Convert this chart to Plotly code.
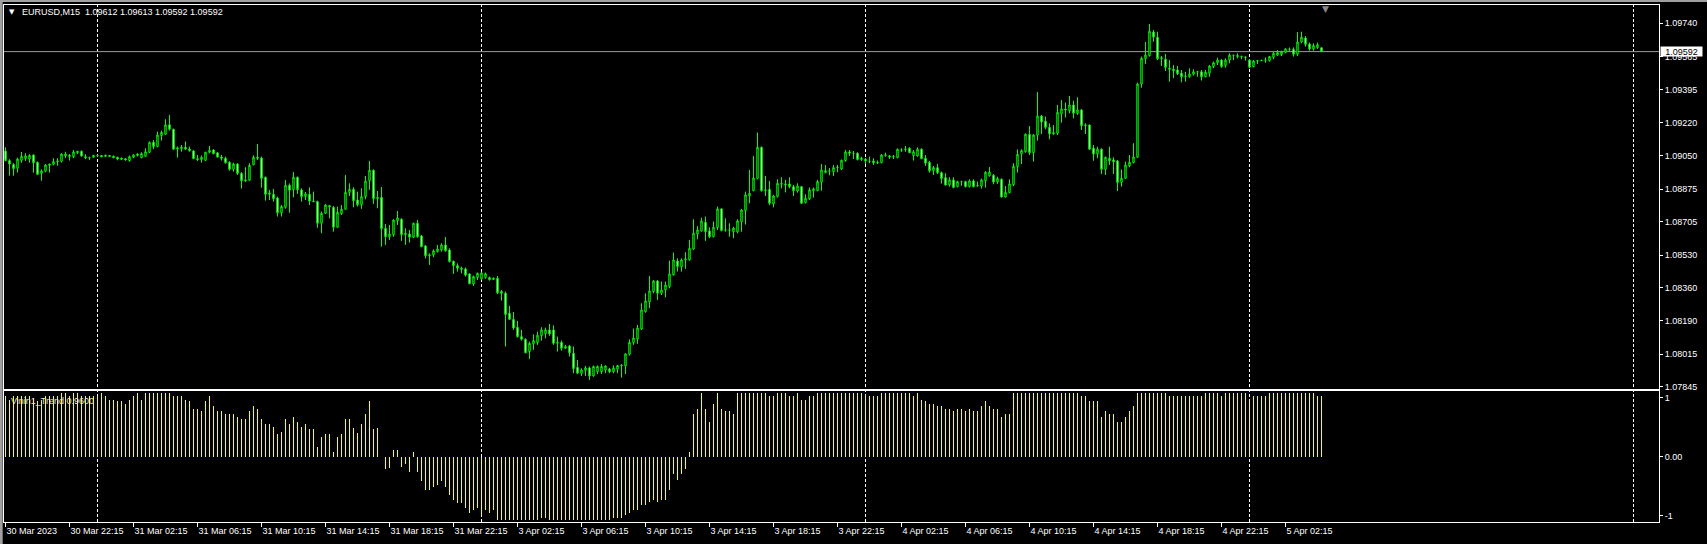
import plotly.graph_objects as go

# ---------------- data (EURUSD M15) ----------------
open_ = [
1.09074,1.09024,1.09003,1.08984,1.09025,1.09034,1.09032,1.09053,1.09015,1.08957,
1.08968,1.08999,1.09004,1.09018,1.09020,1.09048,1.09051,1.09044,1.09065,1.09072,
1.09044,1.09039,1.09041,1.09050,1.09050,1.09046,1.09050,1.09046,1.09041,1.09036,
1.09034,1.09024,1.09041,1.09050,1.09039,1.09046,1.09067,1.09119,1.09097,1.09154,
1.09161,1.09210,1.09187,1.09083,1.09086,1.09093,1.09084,1.09074,1.09034,1.09029,
1.09025,1.09067,1.09079,1.09064,1.09043,1.09036,1.09015,1.08978,1.09006,1.08957,
1.08919,1.08921,1.09003,1.09041,1.09037,1.08937,1.08848,1.08848,1.08829,1.08752,
1.08780,1.08895,1.08872,1.08937,1.08871,1.08836,1.08848,1.08813,1.08810,1.08697,
1.08749,1.08789,1.08780,1.08676,1.08747,1.08770,1.08858,1.08874,1.08818,1.08794,
1.08836,1.08919,1.08973,1.08825,1.08832,1.08671,1.08627,1.08638,1.08711,1.08718,
1.08638,1.08641,1.08624,1.08697,1.08631,1.08579,1.08528,1.08532,1.08549,1.08558,
1.08584,1.08558,1.08499,1.08476,1.08462,1.08459,1.08433,1.08381,1.08414,1.08407,
1.08414,1.08414,1.08410,1.08410,1.08341,1.08332,1.08228,1.08196,1.08155,1.08106,
1.08092,1.08028,1.08068,1.08075,1.08111,1.08122,1.08141,1.08141,1.08071,1.08076,
1.08045,1.08057,1.08019,1.07946,1.07915,1.07929,1.07943,1.07901,1.07923,1.07923,
1.07932,1.07937,1.07923,1.07936,1.07955,1.07953,1.08014,1.08075,1.08094,1.08146,
1.08236,1.08287,1.08341,1.08396,1.08332,1.08349,1.08367,1.08428,1.08500,1.08471,
1.08506,1.08506,1.08563,1.08641,1.08657,1.08702,1.08657,1.08627,1.08674,1.08772,
1.08662,1.08662,1.08653,1.08652,1.08705,1.08763,1.08839,1.08867,1.08931,1.09093,
1.08867,1.08874,1.08798,1.08836,1.08900,1.08902,1.08902,1.08888,1.08865,1.08888,
1.08805,1.08824,1.08867,1.08867,1.08911,1.08961,1.08970,1.08966,1.08987,1.08980,
1.09024,1.09069,1.09062,1.09062,1.09029,1.09031,1.09020,1.09022,1.09013,1.09013,
1.09051,1.09048,1.09043,1.09039,1.09079,1.09081,1.09088,1.09050,1.09048,1.09083,
1.09036,1.09015,1.08971,1.08987,1.08961,1.08935,1.08897,1.08923,1.08888,1.08914,
1.08914,1.08888,1.08918,1.08891,1.08891,1.08919,1.08944,1.08947,1.08912,1.08926,
1.08834,1.08857,1.08898,1.08992,1.09058,1.09070,1.09161,1.09065,1.09156,1.09256,
1.09229,1.09197,1.09163,1.09166,1.09268,1.09293,1.09284,1.09314,1.09270,1.09288,
1.09206,1.09209,1.09088,1.09058,1.09083,1.08978,1.09036,1.09027,1.09022,1.08910,
1.08931,1.08996,1.09013,1.09041,1.09423,1.09555,1.09571,1.09694,1.09667,1.09555,
1.09552,1.09505,1.09500,1.09496,1.09479,1.09465,1.09461,1.09474,1.09486,1.09487,
1.09461,1.09479,1.09514,1.09534,1.09548,1.09519,1.09548,1.09573,1.09566,1.09567,
1.09564,1.09548,1.09514,1.09543,1.09545,1.09547,1.09545,1.09562,1.09574,1.09576,
1.09588,1.09604,1.09604,1.09578,1.09642,1.09663,1.09632,1.09606,1.09613,1.09612]

high = [
1.09093,1.09031,1.09010,1.09039,1.09069,1.09062,1.09057,1.09057,1.09018,1.08978,
1.09006,1.09006,1.09036,1.09036,1.09062,1.09070,1.09058,1.09079,1.09074,1.09077,
1.09057,1.09044,1.09053,1.09055,1.09053,1.09055,1.09053,1.09050,1.09044,1.09039,
1.09037,1.09050,1.09057,1.09062,1.09067,1.09088,1.09123,1.09131,1.09175,1.09180,
1.09239,1.09262,1.09190,1.09097,1.09105,1.09123,1.09097,1.09079,1.09053,1.09050,
1.09070,1.09100,1.09083,1.09069,1.09053,1.09044,1.09020,1.09013,1.09010,1.08964,
1.08989,1.09010,1.09051,1.09110,1.09044,1.08940,1.08871,1.08876,1.08836,1.08792,
1.08923,1.08905,1.08964,1.08940,1.08879,1.08860,1.08884,1.08862,1.08815,1.08758,
1.08798,1.08792,1.08787,1.08784,1.08792,1.08949,1.08905,1.08884,1.08862,1.08879,
1.08944,1.09022,1.08978,1.08865,1.08886,1.08693,1.08688,1.08718,1.08761,1.08723,
1.08671,1.08662,1.08700,1.08714,1.08636,1.08584,1.08540,1.08561,1.08584,1.08593,
1.08626,1.08566,1.08502,1.08488,1.08471,1.08466,1.08436,1.08424,1.08440,1.08445,
1.08440,1.08419,1.08414,1.08422,1.08349,1.08341,1.08266,1.08234,1.08188,1.08141,
1.08097,1.08080,1.08118,1.08132,1.08155,1.08153,1.08172,1.08165,1.08106,1.08085,
1.08063,1.08063,1.08054,1.07984,1.07941,1.07953,1.07950,1.07955,1.07956,1.07963,
1.07956,1.07943,1.07956,1.07958,1.07960,1.08019,1.08092,1.08148,1.08167,1.08280,
1.08332,1.08422,1.08401,1.08401,1.08393,1.08393,1.08502,1.08544,1.08514,1.08514,
1.08546,1.08610,1.08718,1.08683,1.08726,1.08732,1.08676,1.08706,1.08784,1.08775,
1.08723,1.08697,1.08679,1.08718,1.08772,1.08862,1.08975,1.09048,1.09170,1.09097,
1.08944,1.08918,1.08845,1.08926,1.08937,1.08923,1.08937,1.08897,1.08905,1.08891,
1.08848,1.08884,1.08883,1.08923,1.09006,1.09001,1.08985,1.09001,1.09001,1.09029,
1.09079,1.09079,1.09074,1.09067,1.09044,1.09037,1.09044,1.09036,1.09024,1.09058,
1.09065,1.09053,1.09053,1.09086,1.09088,1.09100,1.09093,1.09079,1.09093,1.09088,
1.09053,1.09022,1.08996,1.09006,1.08966,1.08958,1.08937,1.08937,1.08919,1.08919,
1.08919,1.08926,1.08926,1.08914,1.08930,1.08968,1.08991,1.08954,1.08940,1.08931,
1.08891,1.08926,1.09010,1.09082,1.09082,1.09166,1.09204,1.09162,1.09381,1.09262,
1.09253,1.09218,1.09209,1.09314,1.09340,1.09326,1.09361,1.09336,1.09354,1.09293,
1.09218,1.09213,1.09105,1.09096,1.09088,1.09044,1.09096,1.09041,1.09027,1.08978,
1.09018,1.09053,1.09114,1.09430,1.09566,1.09642,1.09736,1.09705,1.09696,1.09569,
1.09580,1.09548,1.09522,1.09517,1.09496,1.09487,1.09505,1.09500,1.09491,1.09496,
1.09496,1.09522,1.09540,1.09560,1.09552,1.09557,1.09583,1.09574,1.09583,1.09571,
1.09566,1.09552,1.09548,1.09548,1.09548,1.09562,1.09569,1.09592,1.09600,1.09597,
1.09609,1.09613,1.09614,1.09694,1.09696,1.09673,1.09639,1.09635,1.09639,1.09613]

low = [
1.09020,1.08945,1.08945,1.08961,1.09013,1.09022,1.09013,1.08961,1.08949,1.08919,
1.08963,1.08961,1.08999,1.08997,1.09013,1.09036,1.09024,1.09036,1.09058,1.09044,
1.09031,1.09027,1.09039,1.09044,1.09041,1.09043,1.09043,1.09036,1.09025,1.09027,
1.09024,1.09018,1.09036,1.09046,1.09036,1.09043,1.09062,1.09083,1.09093,1.09128,
1.09157,1.09180,1.09079,1.09039,1.09070,1.09079,1.09070,1.09031,1.09022,1.09013,
1.09022,1.09062,1.09057,1.09039,1.09024,1.09008,1.08971,1.08966,1.08949,1.08878,
1.08912,1.08919,1.08999,1.09027,1.08883,1.08815,1.08818,1.08810,1.08732,1.08732,
1.08773,1.08752,1.08832,1.08850,1.08810,1.08818,1.08792,1.08808,1.08674,1.08645,
1.08745,1.08723,1.08653,1.08672,1.08740,1.08766,1.08839,1.08780,1.08784,1.08772,
1.08822,1.08871,1.08798,1.08775,1.08575,1.08584,1.08610,1.08627,1.08688,1.08605,
1.08584,1.08596,1.08619,1.08622,1.08572,1.08514,1.08480,1.08520,1.08544,1.08549,
1.08549,1.08493,1.08433,1.08445,1.08436,1.08419,1.08379,1.08370,1.08401,1.08401,
1.08408,1.08398,1.08401,1.08328,1.08294,1.08054,1.08193,1.08141,1.08101,1.08085,
1.08019,1.07990,1.08037,1.08063,1.08085,1.08097,1.08110,1.08063,1.08028,1.08033,
1.08042,1.08002,1.07915,1.07910,1.07901,1.07901,1.07880,1.07897,1.07911,1.07911,
1.07915,1.07915,1.07915,1.07915,1.07892,1.07911,1.08007,1.08063,1.08068,1.08141,
1.08231,1.08254,1.08332,1.08297,1.08323,1.08311,1.08358,1.08424,1.08445,1.08445,
1.08459,1.08502,1.08558,1.08613,1.08653,1.08605,1.08619,1.08624,1.08662,1.08655,
1.08653,1.08627,1.08619,1.08645,1.08653,1.08690,1.08801,1.08864,1.08926,1.08862,
1.08839,1.08791,1.08780,1.08832,1.08879,1.08858,1.08879,1.08839,1.08857,1.08798,
1.08801,1.08818,1.08831,1.08864,1.08867,1.08958,1.08947,1.08944,1.08963,1.08975,
1.09018,1.09048,1.09032,1.09025,1.09022,1.09006,1.09010,1.09001,1.09006,1.09010,
1.09044,1.09032,1.09032,1.09036,1.09069,1.09069,1.09062,1.09024,1.09044,1.09031,
1.08996,1.08961,1.08949,1.08954,1.08904,1.08893,1.08888,1.08879,1.08884,1.08893,
1.08884,1.08884,1.08884,1.08888,1.08878,1.08883,1.08940,1.08900,1.08902,1.08831,
1.08831,1.08853,1.08891,1.08961,1.09006,1.09065,1.09053,1.09018,1.09128,1.09162,
1.09187,1.09135,1.09157,1.09157,1.09222,1.09248,1.09270,1.09244,1.09262,1.09183,
1.09162,1.09079,1.09023,1.09036,1.08954,1.08949,1.09001,1.08954,1.08865,1.08888,
1.08928,1.08989,1.09010,1.09037,1.09404,1.09527,1.09566,1.09644,1.09548,1.09517,
1.09491,1.09435,1.09454,1.09470,1.09432,1.09435,1.09456,1.09467,1.09461,1.09441,
1.09458,1.09461,1.09505,1.09522,1.09508,1.09508,1.09531,1.09548,1.09557,1.09552,
1.09545,1.09505,1.09510,1.09527,1.09543,1.09534,1.09540,1.09552,1.09569,1.09569,
1.09583,1.09592,1.09566,1.09569,1.09635,1.09618,1.09597,1.09597,1.09606,1.09592]

close = [
1.09024,1.09006,1.08982,1.09032,1.09046,1.09048,1.09051,1.09013,1.08952,1.08970,
1.09001,1.09006,1.09018,1.09022,1.09058,1.09058,1.09046,1.09069,1.09072,1.09048,
1.09039,1.09038,1.09051,1.09050,1.09044,1.09051,1.09046,1.09039,1.09032,1.09031,
1.09027,1.09044,1.09053,1.09058,1.09060,1.09070,1.09119,1.09097,1.09157,1.09170,
1.09210,1.09187,1.09083,1.09090,1.09093,1.09084,1.09076,1.09034,1.09029,1.09041,
1.09067,1.09077,1.09060,1.09043,1.09036,1.09013,1.08978,1.09006,1.08957,1.08919,
1.08923,1.08999,1.09041,1.09036,1.08931,1.08848,1.08855,1.08825,1.08752,1.08784,
1.08895,1.08869,1.08937,1.08872,1.08836,1.08850,1.08813,1.08810,1.08697,1.08749,
1.08792,1.08784,1.08676,1.08754,1.08770,1.08858,1.08874,1.08815,1.08794,1.08836,
1.08917,1.08973,1.08825,1.08832,1.08669,1.08627,1.08641,1.08714,1.08725,1.08638,
1.08645,1.08624,1.08697,1.08627,1.08575,1.08528,1.08533,1.08553,1.08563,1.08584,
1.08554,1.08497,1.08476,1.08462,1.08457,1.08427,1.08382,1.08419,1.08436,1.08438,
1.08434,1.08403,1.08405,1.08335,1.08332,1.08221,1.08196,1.08151,1.08106,1.08092,
1.08022,1.08071,1.08085,1.08113,1.08141,1.08141,1.08120,1.08071,1.08076,1.08045,
1.08054,1.08022,1.07939,1.07915,1.07932,1.07943,1.07901,1.07950,1.07950,1.07950,
1.07953,1.07923,1.07943,1.07955,1.07958,1.08016,1.08076,1.08099,1.08151,1.08245,
1.08292,1.08344,1.08396,1.08332,1.08349,1.08375,1.08433,1.08506,1.08471,1.08506,
1.08511,1.08566,1.08645,1.08662,1.08709,1.08653,1.08627,1.08676,1.08772,1.08659,
1.08662,1.08661,1.08671,1.08709,1.08766,1.08845,1.08853,1.08933,1.09093,1.08867,
1.08871,1.08801,1.08839,1.08905,1.08904,1.08898,1.08888,1.08867,1.08891,1.08801,
1.08827,1.08871,1.08876,1.08914,1.08975,1.08971,1.08969,1.08987,1.08989,1.09025,
1.09069,1.09062,1.09062,1.09029,1.09036,1.09022,1.09020,1.09013,1.09015,1.09053,
1.09053,1.09043,1.09044,1.09083,1.09079,1.09084,1.09065,1.09070,1.09083,1.09034,
1.09010,1.08971,1.08987,1.08961,1.08930,1.08897,1.08923,1.08884,1.08914,1.08914,
1.08888,1.08918,1.08888,1.08893,1.08923,1.08963,1.08964,1.08912,1.08930,1.08834,
1.08858,1.08902,1.08994,1.09056,1.09076,1.09161,1.09065,1.09157,1.09256,1.09225,
1.09197,1.09163,1.09169,1.09275,1.09293,1.09288,1.09314,1.09270,1.09288,1.09206,
1.09209,1.09083,1.09058,1.09083,1.08978,1.09041,1.09023,1.09018,1.08909,1.08931,
1.09001,1.09015,1.09043,1.09423,1.09557,1.09574,1.09698,1.09667,1.09555,1.09560,
1.09510,1.09500,1.09493,1.09477,1.09461,1.09463,1.09475,1.09487,1.09487,1.09461,
1.09484,1.09517,1.09534,1.09548,1.09514,1.09548,1.09574,1.09573,1.09571,1.09566,
1.09562,1.09510,1.09543,1.09545,1.09547,1.09548,1.09566,1.09583,1.09587,1.09590,
1.09606,1.09604,1.09578,1.09642,1.09667,1.09630,1.09606,1.09623,1.09628,1.09592]

# Vinin1_Trend indicator, one value per bar
trend = [
0.955,0.89,0.955,0.955,0.955,0.955,0.955,0.92,0.87,0.90,
0.955,0.955,0.955,0.955,1.0,1.0,0.955,1.0,1.0,0.955,
0.955,0.955,0.955,0.955,1.0,0.955,0.90,0.90,0.877,0.877,
0.824,0.90,0.955,1.0,0.90,1.0,1.0,1.0,1.0,1.0,
1.0,1.0,0.955,0.955,0.955,0.90,0.877,0.75,0.75,0.724,
0.877,0.955,0.80,0.72,0.72,0.67,0.67,0.67,0.62,0.593,
0.593,0.72,0.80,0.75,0.593,0.514,0.514,0.462,0.357,0.383,
0.593,0.514,0.62,0.54,0.462,0.514,0.436,0.436,0.157,0.304,
0.357,0.357,0.068,0.304,0.36,0.59,0.59,0.46,0.38,0.51,
0.67,0.87,0.44,0.46,0.0,-0.19,-0.17,0.10,0.10,-0.16,
-0.12,-0.24,0.07,-0.24,-0.39,-0.52,-0.52,-0.47,-0.45,-0.39,
-0.47,-0.60,-0.68,-0.73,-0.73,-0.81,-0.88,-0.84,-0.81,-0.92,
-0.84,-0.88,-0.84,-1.0,-1.0,-1.0,-1.0,-1.0,-1.0,-1.0,
-1.0,-1.0,-1.0,-1.0,-0.96,-0.96,-1.0,-1.0,-1.0,-1.0,
-1.0,-1.0,-1.0,-1.0,-1.0,-1.0,-1.0,-1.0,-1.0,-1.0,
-1.0,-1.0,-0.96,-0.96,-0.96,-0.92,-0.88,-0.84,-0.84,-0.76,
-0.76,-0.72,-0.68,-0.72,-0.68,-0.68,-0.52,-0.27,-0.37,-0.27,
-0.19,0.07,0.67,0.75,1.0,0.75,0.55,0.83,1.0,0.75,
0.72,0.72,0.67,1.0,1.0,1.0,1.0,1.0,1.0,1.0,
1.0,0.955,0.955,1.0,1.0,1.0,0.955,0.955,1.0,0.90,
0.90,0.955,0.955,1.0,1.0,1.0,1.0,1.0,1.0,1.0,
1.0,1.0,1.0,1.0,1.0,0.98,0.955,0.955,0.955,1.0,
1.0,1.0,1.0,1.0,1.0,1.0,1.0,0.955,1.0,0.90,
0.88,0.83,0.83,0.80,0.80,0.75,0.75,0.72,0.75,0.75,
0.72,0.75,0.72,0.72,0.80,0.88,0.80,0.75,0.75,0.62,
0.67,0.67,1.0,1.0,1.0,1.0,1.0,1.0,1.0,1.0,
1.0,1.0,1.0,1.0,1.0,1.0,1.0,1.0,1.0,0.955,
0.955,0.88,0.88,0.88,0.62,0.72,0.67,0.67,0.55,0.55,
0.62,0.72,0.80,1.0,1.0,1.0,1.0,1.0,1.0,1.0,
1.0,0.955,0.955,0.955,0.955,0.955,0.955,0.955,0.955,0.955,
1.0,1.0,1.0,1.0,0.955,1.0,1.0,1.0,1.0,1.0,
1.0,0.91,0.955,0.955,0.955,0.955,1.0,1.0,1.0,1.0,
1.0,1.0,1.0,1.0,1.0,1.0,1.0,1.0,0.955,0.96]

# time labels, one every 16 bars (4 hours of M15)
time_labels = ["30 Mar 2023", "30 Mar 22:15", "31 Mar 02:15", "31 Mar 06:15", "31 Mar 10:15",
               "31 Mar 14:15", "31 Mar 18:15", "31 Mar 22:15", "3 Apr 02:15", "3 Apr 06:15",
               "3 Apr 10:15", "3 Apr 14:15", "3 Apr 18:15", "3 Apr 22:15", "4 Apr 02:15",
               "4 Apr 06:15", "4 Apr 10:15", "4 Apr 14:15", "4 Apr 18:15", "4 Apr 22:15",
               "5 Apr 02:15"]
price_labels = [1.09740, 1.09565, 1.09395, 1.09220, 1.09050, 1.08875, 1.08705,
                1.08530, 1.08360, 1.08190, 1.08015, 1.07845]
day_start_bars = [23, 119, 215, 311, 407]   # first bar of 31 Mar, 3 Apr, 4 Apr, 5 Apr, 6 Apr

symbol = "EURUSD,M15"
indicator_name = "Vinin1_Trend"

# ---------------- figure ----------------
bars = list(range(len(close)))
tick_bars = bars[::16]

FONT = "Liberation Sans, Arial, sans-serif"
LIME = "#00FF00"
YELLOW = "#FFFF00"

fig = go.Figure()
fig.add_trace(go.Candlestick(
    x=bars, open=open_, high=high, low=low, close=close,
    xaxis="x", yaxis="y",
    increasing=dict(line=dict(color=LIME, width=1), fillcolor="#000000"),
    decreasing=dict(line=dict(color=LIME, width=1), fillcolor="#FFFFFF"),
    whiskerwidth=0, hoverinfo="skip", showlegend=False))
fig.add_trace(go.Bar(
    x=bars, y=trend, xaxis="x2", yaxis="y2", width=0.25,
    marker=dict(color=YELLOW, line=dict(width=0)), hoverinfo="skip", showlegend=False))

xr = [-0.375, 413.375]
axis_common = dict(showline=True, linecolor="white", linewidth=1, mirror=True,
                   zeroline=False, showgrid=False)

shapes = []
for d in day_start_bars:
    shapes.append(dict(type="line", xref="x", yref="paper", x0=d, x1=d, y0=0, y1=1,
                       line=dict(color="white", width=1, dash="3px,2px"), layer="below"))
shapes.append(dict(type="line", xref="paper", yref="y", x0=0, x1=1, y0=close[-1], y1=close[-1],
                   line=dict(color="#9A9A9A", width=1), layer="below"))
# terminal window frame
shapes.append(dict(type="rect", xref="paper", yref="paper", x0=-0.0025, x1=-0.0008,
                   y0=-0.05, y1=1.02, fillcolor="#A0A0A0", line=dict(width=0)))
shapes.append(dict(type="rect", xref="paper", yref="paper", x0=-0.0025, x1=1.03,
                   y0=1.0058, y1=1.02, fillcolor="#A0A0A0", line=dict(width=0)))

ohlc_text = f"{open_[-1]:.5f} {high[-1]:.5f} {low[-1]:.5f} {close[-1]:.5f}"
annotations = [
    dict(xref="paper", yref="paper", x=0.0051, y=0.9855, text="▼", showarrow=False,
         xanchor="center", yanchor="middle", font=dict(family="DejaVu Sans", size=7, color="white")),
    dict(xref="paper", yref="paper", x=0.0098, y=0.9855,
         text=f"{symbol}\u00a0\u00a0{ohlc_text}", showarrow=False,
         xanchor="left", yanchor="middle", font=dict(family=FONT, size=9, color="white")),
    dict(xref="paper", yref="paper", x=0.0030, y=0.2346,
         text=f"{indicator_name} {trend[-1]:.4f}", showarrow=False,
         xanchor="left", yanchor="middle", font=dict(family=FONT, size=9, color="#E6E6E6")),
    dict(xref="paper", yref="y", x=1, y=close[-1], xshift=1, text=f"{close[-1]:.5f}",
         showarrow=False, xanchor="left", yanchor="middle", bgcolor="white",
         width=41, height=9, borderpad=0, font=dict(family=FONT, size=9, color="black")),
    dict(xref="x", yref="paper", x=len(close), y=1.0, text="▼", showarrow=False,
         xanchor="center", yanchor="top", yshift=3,
         font=dict(family="DejaVu Sans", size=9, color="#8A8A8A")),
]

fig.update_layout(
    width=1707, height=544,
    margin=dict(l=4, r=48, t=5, b=22, pad=0),
    paper_bgcolor="black", plot_bgcolor="black",
    font=dict(family=FONT, size=9, color="white"),
    showlegend=False, boxgap=0.5, bargap=0,
    xaxis=dict(domain=[0, 1], range=xr, anchor="y", showticklabels=False, ticks="",
               rangeslider=dict(visible=False), **axis_common),
    xaxis2=dict(domain=[0, 1], range=xr, anchor="y2", tickmode="array", tickvals=tick_bars,
                ticktext=time_labels, ticks="outside", ticklen=4, tickcolor="white",
                ticklabelposition="outside right", tickfont=dict(family=FONT, size=9, color="white"),
                **axis_common),
    yaxis=dict(domain=[0.2573, 1], range=[1.07833, 1.09835], side="right", anchor="x",
               tickmode="array", tickvals=price_labels, tickformat=".5f",
               ticks="outside", ticklen=3, tickcolor="white",
               tickfont=dict(family=FONT, size=9, color="white"), **axis_common),
    yaxis2=dict(domain=[0, 0.2534], range=[-1.028, 1.035], side="right", anchor="x2",
                tickmode="array", tickvals=[0.93, 0, -0.93], ticktext=["1", "0.00", "-1"],
                ticks="outside", ticklen=3, tickcolor="white",
                tickfont=dict(family=FONT, size=9, color="white"), **axis_common),
    shapes=shapes, annotations=annotations,
)

fig.write_html("out.html", config={"displayModeBar": False},
               post_script="document.body.style.margin='0';document.body.style.background='black';")
